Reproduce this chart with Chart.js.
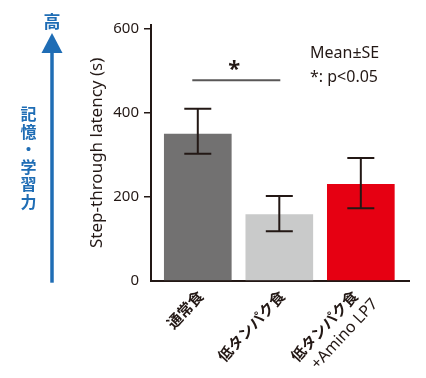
<!DOCTYPE html>
<html>
<head>
<meta charset="utf-8">
<script src="https://cdn.jsdelivr.net/npm/chart.js@4"></script>
<style>
    html, body { margin: 0; background: #fff; }
    #wrap { width: 426px; height: 378px; }
</style>
</head>
<body>
<div id="wrap"><canvas id="chart"></canvas></div>
<script>
const cats = [['通常食'], ['低タンパク食'], ['低タンパク食', '+Amino LP7']];
const means = [350, 158, 230];
const errHigh = [410, 202, 293];
const errLow = [303, 118, 173];
const yTicks = [0, 200, 400, 600];
const barColors = ['#727171', '#c9caca', '#e60012'];

const ink = '#231815';
const blue = '#1f6db5';

const errorBars = {
    id: 'errorBars',
    afterDatasetsDraw(chart) {
        const { ctx, scales: { y } } = chart;
        ctx.save();
        ctx.strokeStyle = ink;
        ctx.lineWidth = 2;
        chart.getDatasetMeta(0).data.forEach((bar, i) => {
            const top = y.getPixelForValue(errHigh[i]);
            const bottom = y.getPixelForValue(errLow[i]);
            ctx.beginPath();
            ctx.moveTo(bar.x, top); ctx.lineTo(bar.x, bottom);
            ctx.moveTo(bar.x - 13.5, top); ctx.lineTo(bar.x + 13.5, top);
            ctx.moveTo(bar.x - 13.5, bottom); ctx.lineTo(bar.x + 13.5, bottom);
            ctx.stroke();
        });
        ctx.restore();
    }
};

// rotated category labels; a second line starts a little further along than the first
const catLabels = {
    id: 'catLabels',
    afterDraw(chart) {
        const { ctx, chartArea, scales: { x } } = chart;
        const cjkFont = 'bold 15px "Noto Sans CJK JP"';
        ctx.save();
        ctx.fillStyle = ink;
        ctx.textBaseline = 'middle';
        cats.forEach((lines, i) => {
            ctx.save();
            ctx.translate(x.getPixelForValue(i) + 2.5 - (lines.length - 1) * 8.5, chartArea.bottom + 12.5);
            ctx.rotate(-47 * Math.PI / 180);
            ctx.font = cjkFont;
            ctx.textAlign = 'right';
            ctx.fillText(lines[0], 0, 0);
            const startX = -ctx.measureText(lines[0]).width;
            ctx.font = '16px "Noto Sans"';
            ctx.textAlign = 'left';
            lines.slice(1).forEach((line, j) => ctx.fillText(line, startX + 8.5, 20.5 * (j + 1)));
            ctx.restore();
        });
        ctx.restore();
    }
};

const extras = {
    id: 'extras',
    afterDraw(chart) {
        const { ctx, chartArea, scales: { x, y } } = chart;
        ctx.save();

        // memory/learning arrow on the left
        ctx.strokeStyle = blue;
        ctx.fillStyle = blue;
        ctx.lineWidth = 3.5;
        ctx.beginPath();
        ctx.moveTo(52, chartArea.bottom + 2);
        ctx.lineTo(52, 50);
        ctx.stroke();
        ctx.beginPath();
        ctx.moveTo(52, 33);
        ctx.lineTo(41.5, 53);
        ctx.lineTo(62.5, 53);
        ctx.closePath();
        ctx.fill();

        ctx.textAlign = 'center';
        ctx.textBaseline = 'middle';
        ctx.font = 'bold 17px "Noto Sans CJK JP"';
        ctx.fillText('高', 52, 22);
        ctx.font = 'bold 16px "Noto Sans CJK JP"';
        [...'記憶・学習力'].forEach((ch, i) => ctx.fillText(ch, 28.5, 114 + i * 17.5));

        // significance bracket
        const x0 = x.getPixelForValue(0) - 5.5;
        const x1 = x.getPixelForValue(1) + 1;
        const ly = y.getPixelForValue(478);
        ctx.strokeStyle = '#595757';
        ctx.lineWidth = 2;
        ctx.beginPath();
        ctx.moveTo(x0, ly);
        ctx.lineTo(x1, ly);
        ctx.stroke();
        ctx.fillStyle = ink;
        ctx.textBaseline = 'alphabetic';
        ctx.font = 'bold 22px "Noto Sans"';
        ctx.fillText('*', (x0 + x1) / 2 - 2, ly - 4);

        // note
        ctx.textAlign = 'left';
        ctx.textBaseline = 'middle';
        ctx.font = '16px "Noto Sans"';
        ctx.fillText('Mean±SE', 310, 53);
        ctx.fillText('*: p<0.05', 310, 77);
        ctx.restore();
    }
};

new Chart(document.getElementById('chart'), {
    type: 'bar',
    data: {
        datasets: [{
            data: means.map((v, i) => ({ x: i, y: v })),
            backgroundColor: barColors,
            barThickness: 67,
            borderWidth: 0
        }]
    },
    options: {
        responsive: true,
        maintainAspectRatio: false,
        animation: false,
        layout: { padding: { left: 80, right: 17, top: 25, bottom: 0 } },
        plugins: { legend: { display: false }, tooltip: { enabled: false } },
        scales: {
            x: {
                type: 'linear',
                min: -0.574,
                max: 2.591,
                offset: false,
                afterFit: s => { s.height = 97.3; },
                grid: { display: false, drawTicks: false },
                border: { color: ink, width: 2 },
                ticks: { display: false }
            },
            y: {
                min: 0,
                max: 610,
                afterBuildTicks: s => { s.ticks = yTicks.map(v => ({ value: v })); },
                afterFit: s => { s.width = 71; },
                grid: {
                    drawOnChartArea: false,
                    tickLength: 7,
                    color: ctx => (ctx.tick && ctx.tick.value === 0 ? 'transparent' : ink),
                    lineWidth: 1.5
                },
                border: { color: ink, width: 2 },
                ticks: {
                    padding: 5,
                    color: ink,
                    font: { family: '"Noto Sans"', size: 15 }
                },
                title: {
                    display: true,
                    text: 'Step-through latency (s)',
                    color: ink,
                    font: { family: '"Noto Sans"', size: 17 },
                    padding: { top: 7, bottom: 0 }
                }
            }
        }
    },
    plugins: [errorBars, catLabels, extras]
});
</script>
</body>
</html>
